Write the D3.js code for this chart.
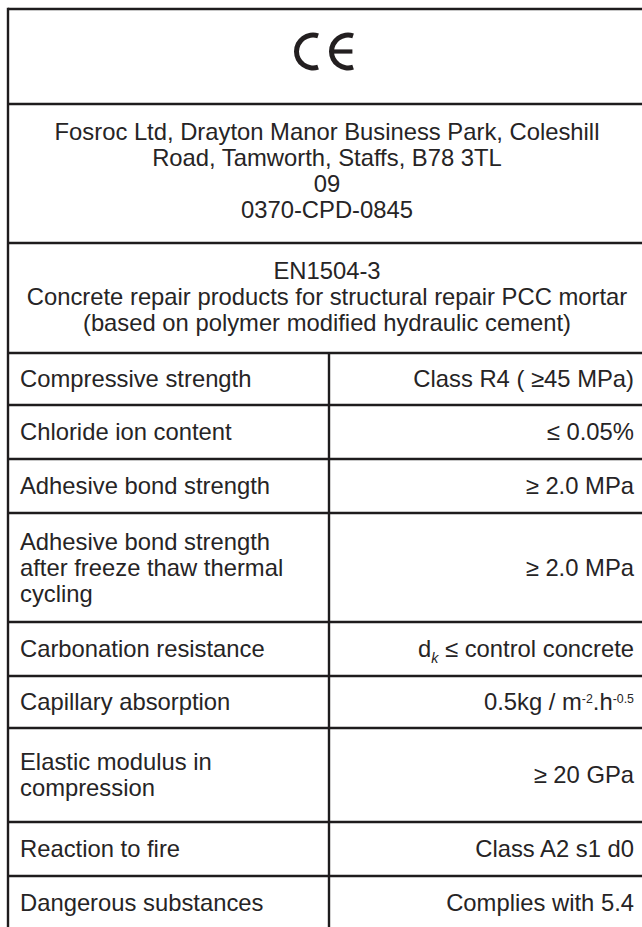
<!DOCTYPE html>
<html><head><meta charset="utf-8">
<script src="https://cdn.jsdelivr.net/npm/d3@7"></script>
<style>html,body{margin:0;padding:0;background:#fff;overflow:hidden}svg{display:block}</style>
</head><body><script>
// ---- data ----
const markLetters = ["C", "E"];
const issuerLines = ["Fosroc Ltd, Drayton Manor Business Park, Coleshill", "Road, Tamworth, Staffs, B78 3TL", "09", "0370-CPD-0845"];
const standardLines = ["EN1504-3", "Concrete repair products for structural repair PCC mortar", "(based on polymer modified hydraulic cement)"];
const properties = [
  ["Compressive strength"],
  ["Chloride ion content"],
  ["Adhesive bond strength"],
  ["Adhesive bond strength", "after freeze thaw thermal", "cycling"],
  ["Carbonation resistance"],
  ["Capillary absorption"],
  ["Elastic modulus in", "compression"],
  ["Reaction to fire"],
  ["Dangerous substances"]
];
const values = [
  [{t: "Class R4 ( ≥45 MPa)"}],
  [{t: "≤ 0.05%"}],
  [{t: "≥ 2.0 MPa"}],
  [{t: "≥ 2.0 MPa"}],
  [{t: "d"}, {t: "k", sub: true}, {t: " ≤ control concrete"}],
  [{t: "0.5kg / m"}, {t: "-2", sup: true}, {t: ".h"}, {t: "-0.5", sup: true}],
  [{t: "≥ 20 GPa"}],
  [{t: "Class A2 s1 d0"}],
  [{t: "Complies with 5.4"}]
];

// ---- layout ----
const W = 642, H = 927;
const left = 8, right = 670, divX = 329;
const bounds = [9, 104, 243, 353, 405, 459, 513, 622, 676, 728, 822, 876, 930];
const FS = 23.8, LH = 26;
const ink = "#262425", lineCol = "#1e1c1d";
const font = "'Liberation Sans', Arial, Helvetica, sans-serif";

const svg = d3.select("body").append("svg").attr("width", W).attr("height", H)
  .style("font-family", font);

const y = d3.scaleOrdinal().domain(d3.range(bounds.length)).range(bounds);

function block(lines, cx, cy, anchor, lh) {
  const n = lines.length, step = lh || LH;
  svg.append("g").selectAll("text").data(lines).join("text")
    .attr("x", cx)
    .attr("y", (d, i) => cy + (i - (n - 1) / 2) * step + FS * 0.355)
    .attr("text-anchor", anchor)
    .attr("font-size", FS)
    .attr("fill", ink)
    .text(d => d);
}

// CE mark
const ceCy = (y(0) + y(1)) / 2 - 5;
const R = 19, th = 5;
const ceX = d3.scalePoint().domain(markLetters).range([313, 348]);
const arc = d3.arc().innerRadius(R - th).outerRadius(R)
  .startAngle(Math.PI * 0.9).endAngle(Math.PI * 2.1);
const ce = svg.append("g").attr("fill", "#231f20");
ce.selectAll("path.l").data(markLetters).join("path").attr("class", "l")
  .attr("transform", d => `translate(${ceX(d)},${ceCy})`)
  .attr("d", arc());
ce.selectAll("rect").data(markLetters.filter(d => d === "E")).join("rect")
  .attr("x", d => ceX(d) - R + th / 2).attr("y", ceCy - th / 2 + 0.4)
  .attr("width", R * 1.1).attr("height", th - 0.8);

block(issuerLines, (left + W) / 2 + 2, (y(1) + y(2)) / 2 - 3, "middle", 26);
block(standardLines, (left + W) / 2 + 2, (y(2) + y(3)) / 2 - 1, "middle", 26);

properties.forEach((p, i) => {
  const cy = (y(3 + i) + y(4 + i)) / 2;
  block(p, 20, cy, "start");
  const t = svg.append("text")
    .attr("x", 634).attr("y", cy + FS * 0.355)
    .attr("text-anchor", "end").attr("font-size", FS).attr("fill", ink);
  values[i].forEach((s, k) => {
    const ts = t.append("tspan").text(s.t);
    if (s.sup) ts.attr("font-size", FS * 0.52).attr("baseline-shift", "super");
    if (s.sub) ts.attr("font-size", FS * 0.6).attr("font-style", "italic").attr("dy", 6);
    if (k > 0 && values[i][k - 1].sub) ts.attr("dy", -6);
  });
});

// grid lines
const hl = svg.append("g").attr("stroke", lineCol).attr("stroke-width", 2.4);
hl.selectAll("line.h").data(bounds.slice(0, -1)).join("line").attr("class", "h")
  .attr("x1", left).attr("x2", right).attr("y1", d => d).attr("y2", d => d);
hl.append("line").attr("x1", left).attr("x2", left).attr("y1", y(0) - 1.2).attr("y2", H + 5);
hl.append("line").attr("x1", divX).attr("x2", divX).attr("y1", y(3)).attr("y2", H + 5);
</script></body></html>
